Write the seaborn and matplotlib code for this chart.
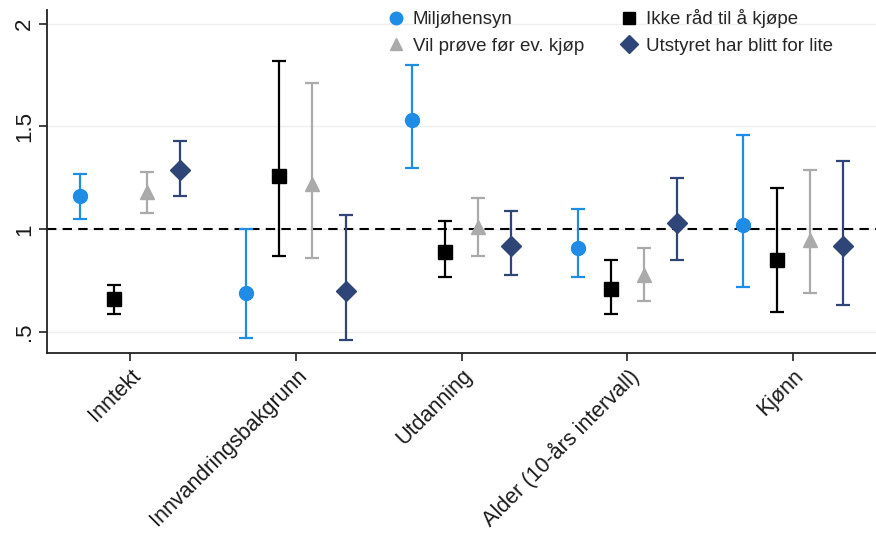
import numpy as np
import pandas as pd
import matplotlib
matplotlib.use("Agg")
import matplotlib.pyplot as plt
from matplotlib.lines import Line2D
import seaborn as sns

# kategorier på x-aksen
categories = ["Inntekt", "Innvandringsbakgrunn", "Utdanning",
              "Alder (10-års intervall)", "Kjønn"]
series = ["Miljøhensyn", "Ikke råd til å kjøpe",
          "Vil prøve før ev. kjøp", "Utstyret har blitt for lite"]

# punktestimat og konfidensintervall, en liste per serie
milj_est = [1.16, 0.69, 1.53, 0.91, 1.02]
milj_lo = [1.05, 0.47, 1.30, 0.77, 0.72]
milj_hi = [1.27, 1.00, 1.80, 1.10, 1.46]

ikke_est = [0.66, 1.26, 0.89, 0.71, 0.85]
ikke_lo = [0.59, 0.87, 0.77, 0.59, 0.60]
ikke_hi = [0.73, 1.82, 1.04, 0.85, 1.20]

vil_est = [1.18, 1.22, 1.01, 0.78, 0.95]
vil_lo = [1.08, 0.86, 0.87, 0.65, 0.69]
vil_hi = [1.28, 1.71, 1.15, 0.91, 1.29]

utst_est = [1.29, 0.70, 0.92, 1.03, 0.92]
utst_lo = [1.16, 0.46, 0.78, 0.85, 0.63]
utst_hi = [1.43, 1.07, 1.09, 1.25, 1.33]

rows = []
for s, est, lo, hi in zip(series,
                          [milj_est, ikke_est, vil_est, utst_est],
                          [milj_lo, ikke_lo, vil_lo, utst_lo],
                          [milj_hi, ikke_hi, vil_hi, utst_hi]):
    for c, e, l, h in zip(categories, est, lo, hi):
        rows.append({"series": s, "category": c, "est": e, "lo": l, "hi": h})
df = pd.DataFrame(rows)

colors = {series[0]: "#1f8ce6", series[1]: "#000000",
          series[2]: "#aaaaaa", series[3]: "#2f4577"}
markers = {series[0]: "o", series[1]: "s", series[2]: "^", series[3]: "D"}
offsets = {series[0]: -0.3, series[1]: -0.1, series[2]: 0.1, series[3]: 0.3}

sns.set_theme(style="white")
plt.rcParams["font.family"] = ["Liberation Sans", "DejaVu Sans"]

fig = plt.figure(figsize=(8.76, 5.36), dpi=100)
ax = fig.add_axes([0.054, 0.342, 0.946, 0.639])

# referanselinje ved 1
ax.axhline(1, color="black", linestyle=(0, (4.5, 3)), linewidth=1.5, zorder=1)

cat_pos = {c: i for i, c in enumerate(categories)}
for s in series:
    sub = df[df["series"] == s]
    x = sub["category"].map(cat_pos).to_numpy() + offsets[s]
    yerr = np.vstack([sub["est"] - sub["lo"], sub["hi"] - sub["est"]])
    ax.errorbar(x, sub["est"], yerr=yerr, fmt=markers[s], color=colors[s],
                ecolor=colors[s], elinewidth=1.6, capsize=4.7, capthick=1.6,
                markersize=10, zorder=3)

ax.set_xlim(-0.5, 4.5)
ax.set_ylim(0.4, 2.065)
ax.set_xticks(range(len(categories)))
ax.set_xticklabels(categories, rotation=45, ha="right", rotation_mode="anchor",
                   fontsize=15.5, color="#1a1a1a")
ax.set_yticks([0.5, 1, 1.5, 2])
ax.set_yticklabels([".5", "1", "1.5", "2"], rotation=90, va="center",
                   fontsize=16, color="#1a1a1a")
ax.tick_params(axis="both", length=6, width=1.2, color="#222222",
               bottom=True, left=True, pad=3)
ax.yaxis.grid(True, color="#eeeeee", linewidth=1)
ax.set_axisbelow(True)
for side in ["top", "right"]:
    ax.spines[side].set_visible(False)
for side in ["left", "bottom"]:
    ax.spines[side].set_color("#222222")
    ax.spines[side].set_linewidth(1.3)

handles = [Line2D([], [], linestyle="none", marker=markers[s], color=colors[s],
                  markersize=9) for s in series]
leg_order = [0, 2, 1, 3]
ax.legend([handles[i] for i in leg_order], [series[i] for i in leg_order],
          ncol=2, frameon=False, loc="upper left", bbox_to_anchor=(0.396, 1.03),
          fontsize=13.5, handletextpad=0.3, columnspacing=1.8,
          labelspacing=0.5, borderpad=0, handlelength=1.2)

fig.savefig("out.png", dpi=100)
